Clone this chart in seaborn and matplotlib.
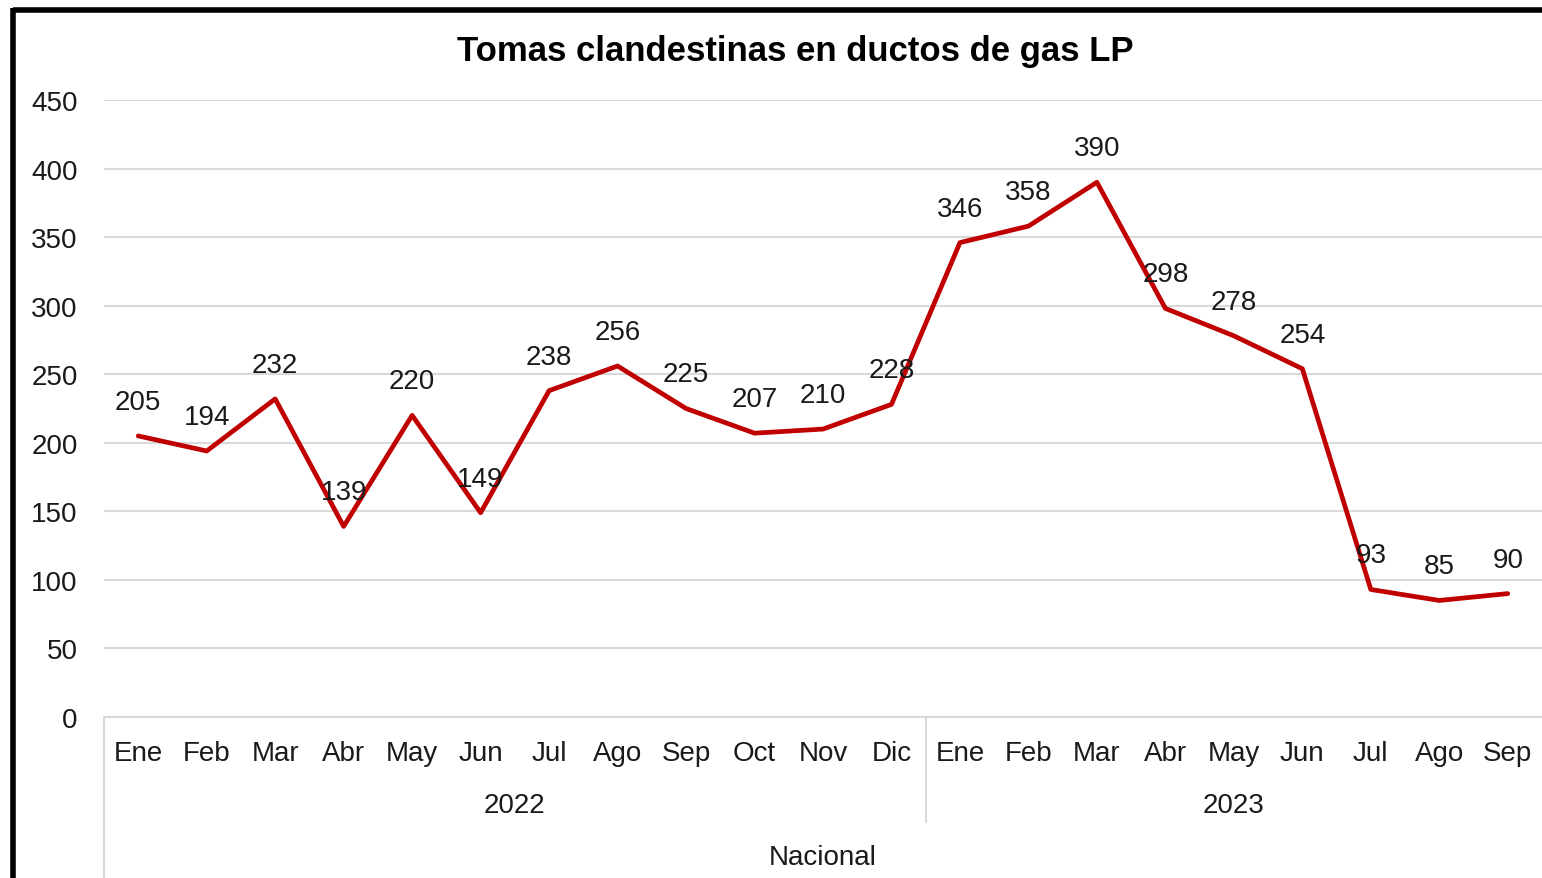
import numpy as np
import pandas as pd
import matplotlib
matplotlib.use("Agg")
import matplotlib.pyplot as plt
import seaborn as sns
from matplotlib.lines import Line2D

meses = ['Ene', 'Feb', 'Mar', 'Abr', 'May', 'Jun', 'Jul', 'Ago', 'Sep', 'Oct', 'Nov', 'Dic',
         'Ene', 'Feb', 'Mar', 'Abr', 'May', 'Jun', 'Jul', 'Ago', 'Sep']
anios = ['2022'] * 12 + ['2023'] * 9
valores = [205, 194, 232, 139, 220, 149, 238, 256, 225, 207, 210, 228,
           346, 358, 390, 298, 278, 254, 93, 85, 90]
titulo = 'Tomas clandestinas en ductos de gas LP'
grupo = 'Nacional'

df = pd.DataFrame({'mes': meses, 'anio': anios, 'valor': valores})
df['pos'] = np.arange(len(df))

sns.set_theme(style='white')
plt.rcParams['font.family'] = ['Liberation Sans', 'DejaVu Sans']
txt = '#1a1a1a'
grid_c = '#d9d9d9'

fig = plt.figure(figsize=(15.42, 8.79), dpi=100)
ax = fig.add_axes([104 / 1542, 1 - 718 / 879, 1 - 104 / 1542, (718 - 101) / 879])

sns.lineplot(data=df, x='pos', y='valor', color='#c00000', linewidth=3.4, ax=ax)

for p, v in zip(df['pos'], df['valor']):
    ax.annotate(str(v), (p, v), xytext=(0, 24.5), textcoords='offset points',
                ha='center', va='center', fontsize=20, color=txt)

ax.set_xlim(-0.5, len(df) - 0.5)
ax.set_ylim(0, 450)
ax.set_yticks(np.arange(0, 451, 50))
ax.yaxis.grid(True, color=grid_c, linewidth=1.5)
ax.xaxis.grid(False)
for s in ['top', 'right', 'left']:
    ax.spines[s].set_visible(False)
ax.spines['bottom'].set_color(grid_c)
ax.spines['bottom'].set_linewidth(1.5)
ax.set_xlabel('')
ax.set_ylabel('')
ax.tick_params(axis='y', length=0, pad=19, labelsize=20, labelcolor=txt)
ax.set_xticks(df['pos'])
ax.set_xticklabels(df['mes'])
ax.tick_params(axis='x', length=0, pad=16.5, labelsize=20, labelcolor=txt)

# etiquetas de grupo (años y Nacional)
xt = ax.get_xaxis_transform()
for a in df['anio'].unique():
    sub = df[df['anio'] == a]['pos']
    ax.text(sub.mean(), -0.1425, a, transform=xt, ha='center', va='center',
            fontsize=20, color=txt)
ax.text(df['pos'].mean(), -0.227, grupo, transform=xt, ha='center', va='center',
        fontsize=20, color=txt)

# separadores
ax.plot([-0.5, -0.5], [0, -0.27], transform=xt, color=grid_c, lw=1.5, clip_on=False)
corte = df[df['anio'] == '2022']['pos'].max() + 0.5
ax.plot([corte, corte], [0, -0.170], transform=xt, color=grid_c, lw=1.5, clip_on=False)

fig.text(795 / 1542, 1 - 51 / 879, titulo, ha='center', va='center',
         fontsize=25, fontweight='bold', color='black')

# marco negro
fig.add_artist(Line2D([12.5 / 1542, 1], [1 - 10.5 / 879, 1 - 10.5 / 879],
                      transform=fig.transFigure, color='black', lw=4,
                      solid_capstyle='butt'))
fig.add_artist(Line2D([12.5 / 1542, 12.5 / 1542], [0, 1 - 8.5 / 879],
                      transform=fig.transFigure, color='black', lw=4,
                      solid_capstyle='butt'))

fig.savefig('out.png', dpi=100, facecolor='white')
